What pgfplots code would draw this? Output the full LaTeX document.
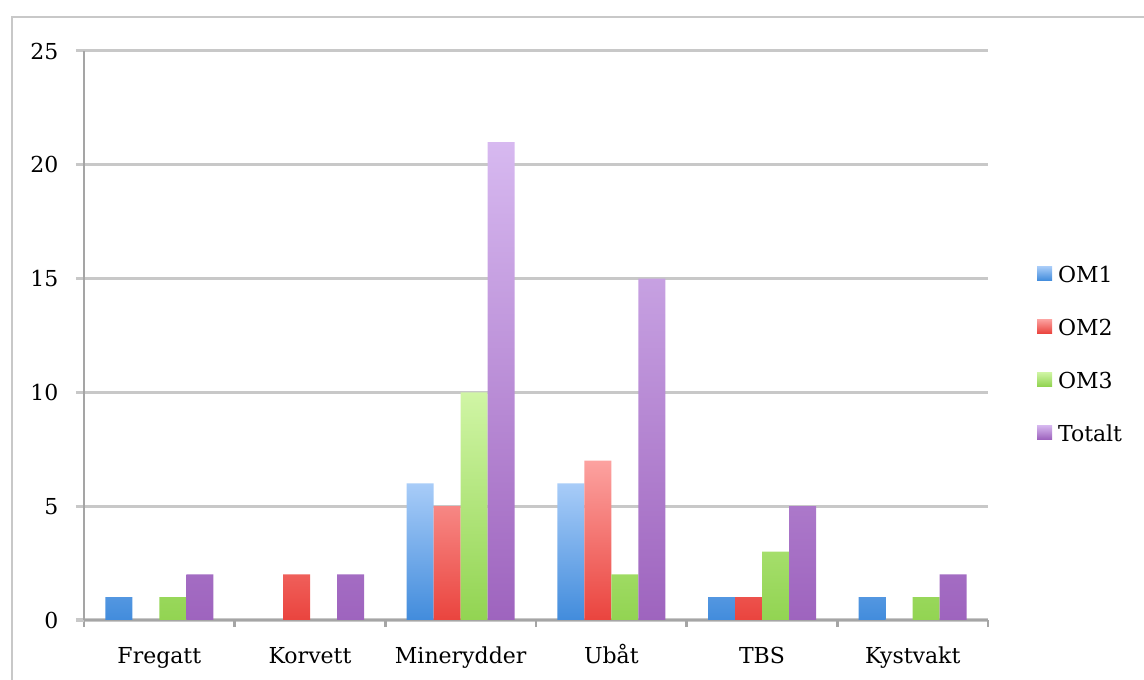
\documentclass[border=0pt]{standalone}
\usepackage{pgfplots}
\pgfplotsset{compat=1.18}
\usepackage{fontspec}
\setmainfont{DejaVu Serif}

\definecolor{omAtop}{RGB}{168,204,248}
\definecolor{omAbot}{RGB}{66,140,220}
\definecolor{omBtop}{RGB}{252,162,160}
\definecolor{omBbot}{RGB}{234,68,62}
\definecolor{omCtop}{RGB}{208,245,165}
\definecolor{omCbot}{RGB}{146,212,82}
\definecolor{totTop}{RGB}{215,185,240}
\definecolor{totBot}{RGB}{158,100,190}
\definecolor{gridgray}{RGB}{200,200,200}
\definecolor{axisgray}{RGB}{165,165,165}
\definecolor{framegray}{RGB}{200,200,200}

\newcommand{\chartfont}{\fontsize{22bp}{26bp}\selectfont}

\begin{document}
\begin{tikzpicture}
\begin{axis}[
    scale only axis,
    width=904bp, height=569bp,
    ybar=0pt, bar width=27bp,
    xmin=-0.5, xmax=5.5,
    ymin=0, ymax=25,
    axis x line=bottom, axis y line=left,
    axis line style={-, axisgray, line width=2.5bp},
    xtick={0,...,5},
    xticklabels={Fregatt,Korvett,Minerydder,Ubåt,TBS,Kystvakt},
    minor xtick={-0.5,0.5,...,5.5},
    ytick={0,5,...,25},
    tick align=outside,
    major tick length=8bp,
    minor tick length=7bp,
    x tick style={draw=none},
    minor x tick style={draw=axisgray, line width=2.5bp},
    y tick style={gridgray, line width=3bp},
    ymajorgrids=true,
    major grid style={gridgray, line width=3bp},
    ticklabel style={font=\chartfont, text=black},
    xticklabel style={anchor=north, text height=16bp, text depth=5bp, yshift=-16bp},
    yticklabel style={xshift=-14bp},
    /pgf/number format/assume math mode=true,
    legend style={draw=none, fill=none, at={(1.054,0.466)}, anchor=west,
        font=\chartfont, text=black, row sep=31bp, inner sep=0pt,
        nodes={inner xsep=6bp}},
    legend cell align=left,
    legend image code/.code={\fill[#1] (0bp,-5bp) rectangle (15bp,9bp);},
]
\addplot[draw=none, top color=omAtop, bottom color=omAbot] coordinates {(0,1) (1,0) (2,6) (3,6) (4,1) (5,1)};
\addplot[draw=none, top color=omBtop, bottom color=omBbot] coordinates {(0,0) (1,2) (2,5) (3,7) (4,1) (5,0)};
\addplot[draw=none, top color=omCtop, bottom color=omCbot] coordinates {(0,1) (1,0) (2,10) (3,2) (4,3) (5,1)};
\addplot[draw=none, top color=totTop, bottom color=totBot] coordinates {(0,2) (1,2) (2,21) (3,15) (4,5) (5,2)};
\legend{OM1,OM2,OM3,Totalt}
\end{axis}
\draw[framegray, line width=2bp] (-72bp,-60bp) -- (-72bp,603bp) -- (1060bp,603bp);
\pgfresetboundingbox
\useasboundingbox (-84bp,-60bp) rectangle (1060bp,620bp);
\end{tikzpicture}
\end{document}
